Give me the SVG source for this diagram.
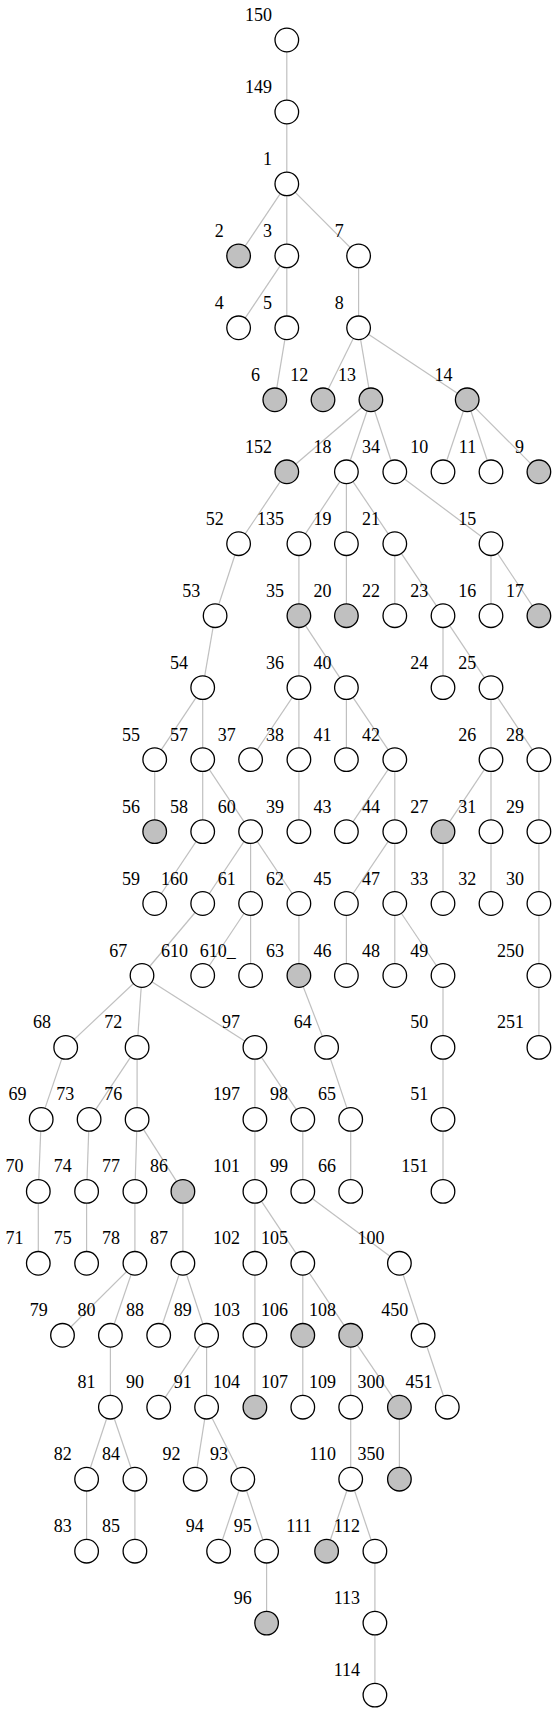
<svg xmlns="http://www.w3.org/2000/svg" width="556" height="1713" viewBox="0 0 556 1713">
<style>
#edges line{stroke:#c0c0c0;stroke-width:1.2}
.nd circle{fill:#fff;stroke:#000;stroke-width:1.3}
.nd circle.g{fill:#c0c0c0}
.nd text{font-family:"Liberation Serif","Times New Roman",serif;font-size:18px;fill:#000;text-anchor:end}
</style>
<defs>
<circle id="cw" r="11.8"/>
</defs>
<rect width="556" height="1713" fill="#fff"/>
<g id="edges">
<line x1="286.8" y1="40" x2="286.8" y2="112"/>
<line x1="286.8" y1="112" x2="286.8" y2="183.9"/>
<line x1="286.8" y1="183.9" x2="238.6" y2="255.9"/>
<line x1="286.8" y1="183.9" x2="286.8" y2="255.9"/>
<line x1="286.8" y1="183.9" x2="358.6" y2="255.9"/>
<line x1="286.8" y1="255.9" x2="238.6" y2="327.8"/>
<line x1="286.8" y1="255.9" x2="286.8" y2="327.8"/>
<line x1="358.6" y1="255.9" x2="358.6" y2="327.8"/>
<line x1="286.8" y1="327.8" x2="274.8" y2="399.8"/>
<line x1="358.6" y1="327.8" x2="323" y2="399.8"/>
<line x1="358.6" y1="327.8" x2="370.9" y2="399.8"/>
<line x1="358.6" y1="327.8" x2="467.2" y2="399.8"/>
<line x1="370.9" y1="399.8" x2="286.8" y2="471.8"/>
<line x1="370.9" y1="399.8" x2="346.4" y2="471.8"/>
<line x1="370.9" y1="399.8" x2="394.8" y2="471.8"/>
<line x1="467.2" y1="399.8" x2="443" y2="471.8"/>
<line x1="467.2" y1="399.8" x2="491" y2="471.8"/>
<line x1="467.2" y1="399.8" x2="538.9" y2="471.8"/>
<line x1="286.8" y1="471.8" x2="238.6" y2="543.7"/>
<line x1="346.4" y1="471.8" x2="298.9" y2="543.7"/>
<line x1="346.4" y1="471.8" x2="346.4" y2="543.7"/>
<line x1="346.4" y1="471.8" x2="394.8" y2="543.7"/>
<line x1="394.8" y1="471.8" x2="491" y2="543.7"/>
<line x1="238.6" y1="543.7" x2="215.1" y2="615.7"/>
<line x1="298.9" y1="543.7" x2="298.9" y2="615.7"/>
<line x1="346.4" y1="543.7" x2="346.4" y2="615.7"/>
<line x1="394.8" y1="543.7" x2="394.8" y2="615.7"/>
<line x1="394.8" y1="543.7" x2="443" y2="615.7"/>
<line x1="491" y1="543.7" x2="491" y2="615.7"/>
<line x1="491" y1="543.7" x2="538.9" y2="615.7"/>
<line x1="215.1" y1="615.7" x2="202.7" y2="687.6"/>
<line x1="298.9" y1="615.7" x2="298.9" y2="687.6"/>
<line x1="298.9" y1="615.7" x2="346.4" y2="687.6"/>
<line x1="443" y1="615.7" x2="443" y2="687.6"/>
<line x1="443" y1="615.7" x2="491" y2="687.6"/>
<line x1="202.7" y1="687.6" x2="154.7" y2="759.6"/>
<line x1="202.7" y1="687.6" x2="202.7" y2="759.6"/>
<line x1="298.9" y1="687.6" x2="250.6" y2="759.6"/>
<line x1="298.9" y1="687.6" x2="298.9" y2="759.6"/>
<line x1="346.4" y1="687.6" x2="346.4" y2="759.6"/>
<line x1="346.4" y1="687.6" x2="394.8" y2="759.6"/>
<line x1="491" y1="687.6" x2="491" y2="759.6"/>
<line x1="491" y1="687.6" x2="538.9" y2="759.6"/>
<line x1="154.7" y1="759.6" x2="154.7" y2="831.6"/>
<line x1="202.7" y1="759.6" x2="202.7" y2="831.6"/>
<line x1="202.7" y1="759.6" x2="250.6" y2="831.6"/>
<line x1="298.9" y1="759.6" x2="298.9" y2="831.6"/>
<line x1="394.8" y1="759.6" x2="346.4" y2="831.6"/>
<line x1="394.8" y1="759.6" x2="394.8" y2="831.6"/>
<line x1="491" y1="759.6" x2="443" y2="831.6"/>
<line x1="491" y1="759.6" x2="491" y2="831.6"/>
<line x1="538.9" y1="759.6" x2="538.9" y2="831.6"/>
<line x1="202.7" y1="831.6" x2="154.7" y2="903.5"/>
<line x1="250.6" y1="831.6" x2="202.7" y2="903.5"/>
<line x1="250.6" y1="831.6" x2="250.6" y2="903.5"/>
<line x1="250.6" y1="831.6" x2="298.9" y2="903.5"/>
<line x1="394.8" y1="831.6" x2="346.4" y2="903.5"/>
<line x1="394.8" y1="831.6" x2="394.8" y2="903.5"/>
<line x1="443" y1="831.6" x2="443" y2="903.5"/>
<line x1="491" y1="831.6" x2="491" y2="903.5"/>
<line x1="538.9" y1="831.6" x2="538.9" y2="903.5"/>
<line x1="202.7" y1="903.5" x2="142" y2="975.5"/>
<line x1="250.6" y1="903.5" x2="202.7" y2="975.5"/>
<line x1="250.6" y1="903.5" x2="250.6" y2="975.5"/>
<line x1="298.9" y1="903.5" x2="298.9" y2="975.5"/>
<line x1="346.4" y1="903.5" x2="346.4" y2="975.5"/>
<line x1="394.8" y1="903.5" x2="394.8" y2="975.5"/>
<line x1="394.8" y1="903.5" x2="443" y2="975.5"/>
<line x1="538.9" y1="903.5" x2="538.9" y2="975.5"/>
<line x1="142" y1="975.5" x2="65.7" y2="1047.4"/>
<line x1="142" y1="975.5" x2="137.1" y2="1047.4"/>
<line x1="142" y1="975.5" x2="254.9" y2="1047.4"/>
<line x1="298.9" y1="975.5" x2="326.6" y2="1047.4"/>
<line x1="443" y1="975.5" x2="443" y2="1047.4"/>
<line x1="538.9" y1="975.5" x2="538.9" y2="1047.4"/>
<line x1="65.7" y1="1047.4" x2="41.2" y2="1119.4"/>
<line x1="137.1" y1="1047.4" x2="89.1" y2="1119.4"/>
<line x1="137.1" y1="1047.4" x2="137.1" y2="1119.4"/>
<line x1="254.9" y1="1047.4" x2="254.9" y2="1119.4"/>
<line x1="254.9" y1="1047.4" x2="302.8" y2="1119.4"/>
<line x1="326.6" y1="1047.4" x2="350.7" y2="1119.4"/>
<line x1="443" y1="1047.4" x2="443" y2="1119.4"/>
<line x1="41.2" y1="1119.4" x2="38.3" y2="1191.4"/>
<line x1="89.1" y1="1119.4" x2="86.6" y2="1191.4"/>
<line x1="137.1" y1="1119.4" x2="134.9" y2="1191.4"/>
<line x1="137.1" y1="1119.4" x2="182.9" y2="1191.4"/>
<line x1="254.9" y1="1119.4" x2="254.9" y2="1191.4"/>
<line x1="302.8" y1="1119.4" x2="302.8" y2="1191.4"/>
<line x1="350.7" y1="1119.4" x2="350.7" y2="1191.4"/>
<line x1="443" y1="1119.4" x2="443" y2="1191.4"/>
<line x1="38.3" y1="1191.4" x2="38.3" y2="1263.3"/>
<line x1="86.6" y1="1191.4" x2="86.6" y2="1263.3"/>
<line x1="134.9" y1="1191.4" x2="134.9" y2="1263.3"/>
<line x1="182.9" y1="1191.4" x2="182.9" y2="1263.3"/>
<line x1="254.9" y1="1191.4" x2="254.9" y2="1263.3"/>
<line x1="254.9" y1="1191.4" x2="302.8" y2="1263.3"/>
<line x1="302.8" y1="1191.4" x2="399.4" y2="1263.3"/>
<line x1="134.9" y1="1263.3" x2="62.5" y2="1335.3"/>
<line x1="134.9" y1="1263.3" x2="110.4" y2="1335.3"/>
<line x1="182.9" y1="1263.3" x2="158.7" y2="1335.3"/>
<line x1="182.9" y1="1263.3" x2="206.6" y2="1335.3"/>
<line x1="254.9" y1="1263.3" x2="254.9" y2="1335.3"/>
<line x1="302.8" y1="1263.3" x2="302.8" y2="1335.3"/>
<line x1="302.8" y1="1263.3" x2="350.7" y2="1335.3"/>
<line x1="399.4" y1="1263.3" x2="423.1" y2="1335.3"/>
<line x1="110.4" y1="1335.3" x2="110.4" y2="1407.2"/>
<line x1="206.6" y1="1335.3" x2="158.7" y2="1407.2"/>
<line x1="206.6" y1="1335.3" x2="206.6" y2="1407.2"/>
<line x1="254.9" y1="1335.3" x2="254.9" y2="1407.2"/>
<line x1="302.8" y1="1335.3" x2="302.8" y2="1407.2"/>
<line x1="350.7" y1="1335.3" x2="350.7" y2="1407.2"/>
<line x1="350.7" y1="1335.3" x2="399.4" y2="1407.2"/>
<line x1="423.1" y1="1335.3" x2="447.3" y2="1407.2"/>
<line x1="110.4" y1="1407.2" x2="86.6" y2="1479.2"/>
<line x1="110.4" y1="1407.2" x2="134.9" y2="1479.2"/>
<line x1="206.6" y1="1407.2" x2="195.2" y2="1479.2"/>
<line x1="206.6" y1="1407.2" x2="242.8" y2="1479.2"/>
<line x1="350.7" y1="1407.2" x2="350.7" y2="1479.2"/>
<line x1="399.4" y1="1407.2" x2="399.4" y2="1479.2"/>
<line x1="86.6" y1="1479.2" x2="86.6" y2="1551.2"/>
<line x1="134.9" y1="1479.2" x2="134.9" y2="1551.2"/>
<line x1="242.8" y1="1479.2" x2="218.6" y2="1551.2"/>
<line x1="242.8" y1="1479.2" x2="266.6" y2="1551.2"/>
<line x1="350.7" y1="1479.2" x2="326.6" y2="1551.2"/>
<line x1="350.7" y1="1479.2" x2="374.9" y2="1551.2"/>
<line x1="266.6" y1="1551.2" x2="266.6" y2="1623.1"/>
<line x1="374.9" y1="1551.2" x2="374.9" y2="1623.1"/>
<line x1="374.9" y1="1623.1" x2="374.9" y2="1695.1"/>
</g>
<g class="nd">
<g id="n150" transform="translate(286.8,40)"><circle r="11.8"/><text x="-14.8" y="-19">150</text></g>
<g id="n149" transform="translate(286.8,112)"><circle r="11.8"/><text x="-14.8" y="-19">149</text></g>
<g id="n1" transform="translate(286.8,183.9)"><circle r="11.8"/><text x="-14.8" y="-19">1</text></g>
<g id="n2" transform="translate(238.6,255.9)"><circle class="g" r="11.8"/><text x="-14.8" y="-19">2</text></g>
<g id="n3" transform="translate(286.8,255.9)"><circle r="11.8"/><text x="-14.8" y="-19">3</text></g>
<g id="n7" transform="translate(358.6,255.9)"><circle r="11.8"/><text x="-14.8" y="-19">7</text></g>
<g id="n4" transform="translate(238.6,327.8)"><circle r="11.8"/><text x="-14.8" y="-19">4</text></g>
<g id="n5" transform="translate(286.8,327.8)"><circle r="11.8"/><text x="-14.8" y="-19">5</text></g>
<g id="n8" transform="translate(358.6,327.8)"><circle r="11.8"/><text x="-14.8" y="-19">8</text></g>
<g id="n6" transform="translate(274.8,399.8)"><circle class="g" r="11.8"/><text x="-14.8" y="-19">6</text></g>
<g id="n12" transform="translate(323,399.8)"><circle class="g" r="11.8"/><text x="-14.8" y="-19">12</text></g>
<g id="n13" transform="translate(370.9,399.8)"><circle class="g" r="11.8"/><text x="-14.8" y="-19">13</text></g>
<g id="n14" transform="translate(467.2,399.8)"><circle class="g" r="11.8"/><text x="-14.8" y="-19">14</text></g>
<g id="n152" transform="translate(286.8,471.8)"><circle class="g" r="11.8"/><text x="-14.8" y="-19">152</text></g>
<g id="n18" transform="translate(346.4,471.8)"><circle r="11.8"/><text x="-14.8" y="-19">18</text></g>
<g id="n34" transform="translate(394.8,471.8)"><circle r="11.8"/><text x="-14.8" y="-19">34</text></g>
<g id="n10" transform="translate(443,471.8)"><circle r="11.8"/><text x="-14.8" y="-19">10</text></g>
<g id="n11" transform="translate(491,471.8)"><circle r="11.8"/><text x="-14.8" y="-19">11</text></g>
<g id="n9" transform="translate(538.9,471.8)"><circle class="g" r="11.8"/><text x="-14.8" y="-19">9</text></g>
<g id="n52" transform="translate(238.6,543.7)"><circle r="11.8"/><text x="-14.8" y="-19">52</text></g>
<g id="n135" transform="translate(298.9,543.7)"><circle r="11.8"/><text x="-14.8" y="-19">135</text></g>
<g id="n19" transform="translate(346.4,543.7)"><circle r="11.8"/><text x="-14.8" y="-19">19</text></g>
<g id="n21" transform="translate(394.8,543.7)"><circle r="11.8"/><text x="-14.8" y="-19">21</text></g>
<g id="n15" transform="translate(491,543.7)"><circle r="11.8"/><text x="-14.8" y="-19">15</text></g>
<g id="n53" transform="translate(215.1,615.7)"><circle r="11.8"/><text x="-14.8" y="-19">53</text></g>
<g id="n35" transform="translate(298.9,615.7)"><circle class="g" r="11.8"/><text x="-14.8" y="-19">35</text></g>
<g id="n20" transform="translate(346.4,615.7)"><circle class="g" r="11.8"/><text x="-14.8" y="-19">20</text></g>
<g id="n22" transform="translate(394.8,615.7)"><circle r="11.8"/><text x="-14.8" y="-19">22</text></g>
<g id="n23" transform="translate(443,615.7)"><circle r="11.8"/><text x="-14.8" y="-19">23</text></g>
<g id="n16" transform="translate(491,615.7)"><circle r="11.8"/><text x="-14.8" y="-19">16</text></g>
<g id="n17" transform="translate(538.9,615.7)"><circle class="g" r="11.8"/><text x="-14.8" y="-19">17</text></g>
<g id="n54" transform="translate(202.7,687.6)"><circle r="11.8"/><text x="-14.8" y="-19">54</text></g>
<g id="n36" transform="translate(298.9,687.6)"><circle r="11.8"/><text x="-14.8" y="-19">36</text></g>
<g id="n40" transform="translate(346.4,687.6)"><circle r="11.8"/><text x="-14.8" y="-19">40</text></g>
<g id="n24" transform="translate(443,687.6)"><circle r="11.8"/><text x="-14.8" y="-19">24</text></g>
<g id="n25" transform="translate(491,687.6)"><circle r="11.8"/><text x="-14.8" y="-19">25</text></g>
<g id="n55" transform="translate(154.7,759.6)"><circle r="11.8"/><text x="-14.8" y="-19">55</text></g>
<g id="n57" transform="translate(202.7,759.6)"><circle r="11.8"/><text x="-14.8" y="-19">57</text></g>
<g id="n37" transform="translate(250.6,759.6)"><circle r="11.8"/><text x="-14.8" y="-19">37</text></g>
<g id="n38" transform="translate(298.9,759.6)"><circle r="11.8"/><text x="-14.8" y="-19">38</text></g>
<g id="n41" transform="translate(346.4,759.6)"><circle r="11.8"/><text x="-14.8" y="-19">41</text></g>
<g id="n42" transform="translate(394.8,759.6)"><circle r="11.8"/><text x="-14.8" y="-19">42</text></g>
<g id="n26" transform="translate(491,759.6)"><circle r="11.8"/><text x="-14.8" y="-19">26</text></g>
<g id="n28" transform="translate(538.9,759.6)"><circle r="11.8"/><text x="-14.8" y="-19">28</text></g>
<g id="n56" transform="translate(154.7,831.6)"><circle class="g" r="11.8"/><text x="-14.8" y="-19">56</text></g>
<g id="n58" transform="translate(202.7,831.6)"><circle r="11.8"/><text x="-14.8" y="-19">58</text></g>
<g id="n60" transform="translate(250.6,831.6)"><circle r="11.8"/><text x="-14.8" y="-19">60</text></g>
<g id="n39" transform="translate(298.9,831.6)"><circle r="11.8"/><text x="-14.8" y="-19">39</text></g>
<g id="n43" transform="translate(346.4,831.6)"><circle r="11.8"/><text x="-14.8" y="-19">43</text></g>
<g id="n44" transform="translate(394.8,831.6)"><circle r="11.8"/><text x="-14.8" y="-19">44</text></g>
<g id="n27" transform="translate(443,831.6)"><circle class="g" r="11.8"/><text x="-14.8" y="-19">27</text></g>
<g id="n31" transform="translate(491,831.6)"><circle r="11.8"/><text x="-14.8" y="-19">31</text></g>
<g id="n29" transform="translate(538.9,831.6)"><circle r="11.8"/><text x="-14.8" y="-19">29</text></g>
<g id="n59" transform="translate(154.7,903.5)"><circle r="11.8"/><text x="-14.8" y="-19">59</text></g>
<g id="n160" transform="translate(202.7,903.5)"><circle r="11.8"/><text x="-14.8" y="-19">160</text></g>
<g id="n61" transform="translate(250.6,903.5)"><circle r="11.8"/><text x="-14.8" y="-19">61</text></g>
<g id="n62" transform="translate(298.9,903.5)"><circle r="11.8"/><text x="-14.8" y="-19">62</text></g>
<g id="n45" transform="translate(346.4,903.5)"><circle r="11.8"/><text x="-14.8" y="-19">45</text></g>
<g id="n47" transform="translate(394.8,903.5)"><circle r="11.8"/><text x="-14.8" y="-19">47</text></g>
<g id="n33" transform="translate(443,903.5)"><circle r="11.8"/><text x="-14.8" y="-19">33</text></g>
<g id="n32" transform="translate(491,903.5)"><circle r="11.8"/><text x="-14.8" y="-19">32</text></g>
<g id="n30" transform="translate(538.9,903.5)"><circle r="11.8"/><text x="-14.8" y="-19">30</text></g>
<g id="n67" transform="translate(142,975.5)"><circle r="11.8"/><text x="-14.8" y="-19">67</text></g>
<g id="n610" transform="translate(202.7,975.5)"><circle r="11.8"/><text x="-14.8" y="-19">610</text></g>
<g id="n610_" transform="translate(250.6,975.5)"><circle r="11.8"/><text x="-14.8" y="-19">610_</text></g>
<g id="n63" transform="translate(298.9,975.5)"><circle class="g" r="11.8"/><text x="-14.8" y="-19">63</text></g>
<g id="n46" transform="translate(346.4,975.5)"><circle r="11.8"/><text x="-14.8" y="-19">46</text></g>
<g id="n48" transform="translate(394.8,975.5)"><circle r="11.8"/><text x="-14.8" y="-19">48</text></g>
<g id="n49" transform="translate(443,975.5)"><circle r="11.8"/><text x="-14.8" y="-19">49</text></g>
<g id="n250" transform="translate(538.9,975.5)"><circle r="11.8"/><text x="-14.8" y="-19">250</text></g>
<g id="n68" transform="translate(65.7,1047.4)"><circle r="11.8"/><text x="-14.8" y="-19">68</text></g>
<g id="n72" transform="translate(137.1,1047.4)"><circle r="11.8"/><text x="-14.8" y="-19">72</text></g>
<g id="n97" transform="translate(254.9,1047.4)"><circle r="11.8"/><text x="-14.8" y="-19">97</text></g>
<g id="n64" transform="translate(326.6,1047.4)"><circle r="11.8"/><text x="-14.8" y="-19">64</text></g>
<g id="n50" transform="translate(443,1047.4)"><circle r="11.8"/><text x="-14.8" y="-19">50</text></g>
<g id="n251" transform="translate(538.9,1047.4)"><circle r="11.8"/><text x="-14.8" y="-19">251</text></g>
<g id="n69" transform="translate(41.2,1119.4)"><circle r="11.8"/><text x="-14.8" y="-19">69</text></g>
<g id="n73" transform="translate(89.1,1119.4)"><circle r="11.8"/><text x="-14.8" y="-19">73</text></g>
<g id="n76" transform="translate(137.1,1119.4)"><circle r="11.8"/><text x="-14.8" y="-19">76</text></g>
<g id="n197" transform="translate(254.9,1119.4)"><circle r="11.8"/><text x="-14.8" y="-19">197</text></g>
<g id="n98" transform="translate(302.8,1119.4)"><circle r="11.8"/><text x="-14.8" y="-19">98</text></g>
<g id="n65" transform="translate(350.7,1119.4)"><circle r="11.8"/><text x="-14.8" y="-19">65</text></g>
<g id="n51" transform="translate(443,1119.4)"><circle r="11.8"/><text x="-14.8" y="-19">51</text></g>
<g id="n70" transform="translate(38.3,1191.4)"><circle r="11.8"/><text x="-14.8" y="-19">70</text></g>
<g id="n74" transform="translate(86.6,1191.4)"><circle r="11.8"/><text x="-14.8" y="-19">74</text></g>
<g id="n77" transform="translate(134.9,1191.4)"><circle r="11.8"/><text x="-14.8" y="-19">77</text></g>
<g id="n86" transform="translate(182.9,1191.4)"><circle class="g" r="11.8"/><text x="-14.8" y="-19">86</text></g>
<g id="n101" transform="translate(254.9,1191.4)"><circle r="11.8"/><text x="-14.8" y="-19">101</text></g>
<g id="n99" transform="translate(302.8,1191.4)"><circle r="11.8"/><text x="-14.8" y="-19">99</text></g>
<g id="n66" transform="translate(350.7,1191.4)"><circle r="11.8"/><text x="-14.8" y="-19">66</text></g>
<g id="n151" transform="translate(443,1191.4)"><circle r="11.8"/><text x="-14.8" y="-19">151</text></g>
<g id="n71" transform="translate(38.3,1263.3)"><circle r="11.8"/><text x="-14.8" y="-19">71</text></g>
<g id="n75" transform="translate(86.6,1263.3)"><circle r="11.8"/><text x="-14.8" y="-19">75</text></g>
<g id="n78" transform="translate(134.9,1263.3)"><circle r="11.8"/><text x="-14.8" y="-19">78</text></g>
<g id="n87" transform="translate(182.9,1263.3)"><circle r="11.8"/><text x="-14.8" y="-19">87</text></g>
<g id="n102" transform="translate(254.9,1263.3)"><circle r="11.8"/><text x="-14.8" y="-19">102</text></g>
<g id="n105" transform="translate(302.8,1263.3)"><circle r="11.8"/><text x="-14.8" y="-19">105</text></g>
<g id="n100" transform="translate(399.4,1263.3)"><circle r="11.8"/><text x="-14.8" y="-19">100</text></g>
<g id="n79" transform="translate(62.5,1335.3)"><circle r="11.8"/><text x="-14.8" y="-19">79</text></g>
<g id="n80" transform="translate(110.4,1335.3)"><circle r="11.8"/><text x="-14.8" y="-19">80</text></g>
<g id="n88" transform="translate(158.7,1335.3)"><circle r="11.8"/><text x="-14.8" y="-19">88</text></g>
<g id="n89" transform="translate(206.6,1335.3)"><circle r="11.8"/><text x="-14.8" y="-19">89</text></g>
<g id="n103" transform="translate(254.9,1335.3)"><circle r="11.8"/><text x="-14.8" y="-19">103</text></g>
<g id="n106" transform="translate(302.8,1335.3)"><circle class="g" r="11.8"/><text x="-14.8" y="-19">106</text></g>
<g id="n108" transform="translate(350.7,1335.3)"><circle class="g" r="11.8"/><text x="-14.8" y="-19">108</text></g>
<g id="n450" transform="translate(423.1,1335.3)"><circle r="11.8"/><text x="-14.8" y="-19">450</text></g>
<g id="n81" transform="translate(110.4,1407.2)"><circle r="11.8"/><text x="-14.8" y="-19">81</text></g>
<g id="n90" transform="translate(158.7,1407.2)"><circle r="11.8"/><text x="-14.8" y="-19">90</text></g>
<g id="n91" transform="translate(206.6,1407.2)"><circle r="11.8"/><text x="-14.8" y="-19">91</text></g>
<g id="n104" transform="translate(254.9,1407.2)"><circle class="g" r="11.8"/><text x="-14.8" y="-19">104</text></g>
<g id="n107" transform="translate(302.8,1407.2)"><circle r="11.8"/><text x="-14.8" y="-19">107</text></g>
<g id="n109" transform="translate(350.7,1407.2)"><circle r="11.8"/><text x="-14.8" y="-19">109</text></g>
<g id="n300" transform="translate(399.4,1407.2)"><circle class="g" r="11.8"/><text x="-14.8" y="-19">300</text></g>
<g id="n451" transform="translate(447.3,1407.2)"><circle r="11.8"/><text x="-14.8" y="-19">451</text></g>
<g id="n82" transform="translate(86.6,1479.2)"><circle r="11.8"/><text x="-14.8" y="-19">82</text></g>
<g id="n84" transform="translate(134.9,1479.2)"><circle r="11.8"/><text x="-14.8" y="-19">84</text></g>
<g id="n92" transform="translate(195.2,1479.2)"><circle r="11.8"/><text x="-14.8" y="-19">92</text></g>
<g id="n93" transform="translate(242.8,1479.2)"><circle r="11.8"/><text x="-14.8" y="-19">93</text></g>
<g id="n110" transform="translate(350.7,1479.2)"><circle r="11.8"/><text x="-14.8" y="-19">110</text></g>
<g id="n350" transform="translate(399.4,1479.2)"><circle class="g" r="11.8"/><text x="-14.8" y="-19">350</text></g>
<g id="n83" transform="translate(86.6,1551.2)"><circle r="11.8"/><text x="-14.8" y="-19">83</text></g>
<g id="n85" transform="translate(134.9,1551.2)"><circle r="11.8"/><text x="-14.8" y="-19">85</text></g>
<g id="n94" transform="translate(218.6,1551.2)"><circle r="11.8"/><text x="-14.8" y="-19">94</text></g>
<g id="n95" transform="translate(266.6,1551.2)"><circle r="11.8"/><text x="-14.8" y="-19">95</text></g>
<g id="n111" transform="translate(326.6,1551.2)"><circle class="g" r="11.8"/><text x="-14.8" y="-19">111</text></g>
<g id="n112" transform="translate(374.9,1551.2)"><circle r="11.8"/><text x="-14.8" y="-19">112</text></g>
<g id="n96" transform="translate(266.6,1623.1)"><circle class="g" r="11.8"/><text x="-14.8" y="-19">96</text></g>
<g id="n113" transform="translate(374.9,1623.1)"><circle r="11.8"/><text x="-14.8" y="-19">113</text></g>
<g id="n114" transform="translate(374.9,1695.1)"><circle r="11.8"/><text x="-14.8" y="-19">114</text></g>
</g>
</svg>
